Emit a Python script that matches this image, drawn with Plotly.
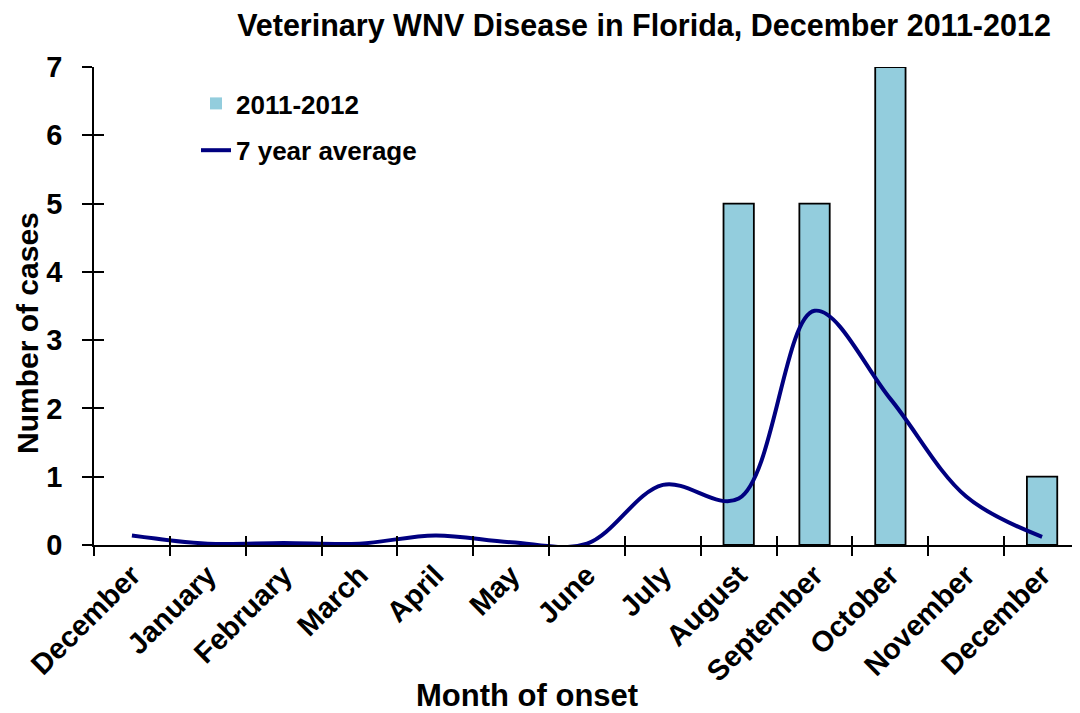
import plotly.graph_objects as go

months = ["December", "January", "February", "March", "April", "May", "June",
          "July", "August", "September", "October", "November", "December"]
cases_2011_2012 = [0, 0, 0, 0, 0, 0, 0, 0, 5, 5, 7, 0, 1]
avg_7yr = [0.14, 0.02, 0.03, 0.02, 0.14, 0.04, 0.02, 0.88, 0.68, 3.43, 2.14, 0.71, 0.12]
y_ticks = [0, 1, 2, 3, 4, 5, 6, 7]

FONT = "Liberation Sans, Arial, sans-serif"
xpos = list(range(len(months)))
bounds = [i - 0.5 for i in xpos]

# page offset: default html body margin of 8px
L, T, PW, PH = 86, 59, 986, 478
W, H = 1080, 713

fig = go.Figure()
fig.add_trace(go.Bar(
    x=xpos, y=cases_2011_2012, name="<b>2011-2012</b>", width=0.4,
    marker=dict(color="#93CDDD",
                line=dict(color="black", width=[1.8 if v else 0 for v in cases_2011_2012])),
    legendgroup="a",
))
fig.add_trace(go.Scatter(
    x=xpos, y=avg_7yr, name="<b>7 year average</b>", mode="lines",
    line=dict(color="#000080", width=4, shape="spline", smoothing=1.0),
    legendgroup="b",
))
# helper invisible traces to host tick-only axes
fig.add_trace(go.Scatter(x=[xpos[0]], y=[0], xaxis="x2", yaxis="y2", mode="markers",
                         marker=dict(opacity=0), showlegend=False, hoverinfo="skip"))
fig.add_trace(go.Scatter(x=[xpos[0]], y=[0], xaxis="x3", yaxis="y3", mode="markers",
                         marker=dict(opacity=0), showlegend=False, hoverinfo="skip"))

xr = [-0.5, 12.5]
yr = [0, 7]
fig.update_layout(
    width=W, height=H,
    margin=dict(l=L, r=W - L - PW, t=T, b=H - T - PH, autoexpand=False),
    paper_bgcolor="white", plot_bgcolor="white",
    font=dict(family=FONT, color="black"),
    title=dict(text="<b>Veterinary WNV Disease in Florida, December 2011-2012</b>",
               x=636 / W, xanchor="center", y=1 - 17 / H, yanchor="middle",
               font=dict(size=30.5, family=FONT, color="black")),
    bargap=0.6,
    showlegend=True,
    legend=dict(xref="paper", yref="paper", x=(188 - L) / PW, y=(PH - 13) / PH,
                xanchor="left", yanchor="top", bgcolor="rgba(0,0,0,0)",
                font=dict(size=26, family=FONT, color="black"),
                traceorder="grouped", tracegroupgap=10),
    xaxis=dict(range=xr, tickmode="array", tickvals=xpos,
               ticktext=["<b>%s</b>" % m for m in months],
               tickangle=-45, ticks="", showgrid=False, zeroline=False,
               showline=True, linecolor="black", linewidth=1.5,
               tickfont=dict(size=29, family=FONT, color="black"),
               ticklabelstandoff=0),
    xaxis2=dict(range=xr, overlaying="x", anchor="y", tickmode="array",
                tickvals=bounds, ticks="outside", ticklen=10, tickwidth=1.5,
                tickcolor="black", showticklabels=False, showgrid=False,
                zeroline=False, showline=False),
    xaxis3=dict(range=xr, overlaying="x", anchor="y", tickmode="array",
                tickvals=bounds, ticks="inside", ticklen=9, tickwidth=1.5,
                tickcolor="black", showticklabels=False, showgrid=False,
                zeroline=False, showline=False),
    yaxis=dict(range=yr, tickmode="array", tickvals=y_ticks,
               ticktext=["<b>%d</b>" % v for v in y_ticks],
               ticks="outside", ticklen=10, tickwidth=1.5, tickcolor="black",
               showgrid=False, zeroline=False, showline=True,
               linecolor="black", linewidth=1.5,
               tickfont=dict(size=29, family=FONT, color="black"),
               ticklabelstandoff=14),
    yaxis2=dict(range=yr, overlaying="y", anchor="x", side="left",
                tickmode="array", tickvals=y_ticks, ticks="inside", ticklen=10,
                tickwidth=1.5, tickcolor="black", showticklabels=False,
                showgrid=False, zeroline=False, showline=False),
    yaxis3=dict(range=yr, overlaying="y", anchor="x", side="left",
                tickmode="array", tickvals=y_ticks, ticks="", showticklabels=False,
                showgrid=False, zeroline=False, showline=False),
    annotations=[
        dict(text="<b>Month of onset</b>", xref="paper", yref="paper",
             x=(519 - L) / PW, y=(T + PH - 687) / PH, xanchor="center", yanchor="middle",
             showarrow=False, font=dict(size=31, family=FONT, color="black")),
        dict(text="<b>Number of cases</b>", xref="paper", yref="paper",
             x=(19 - L) / PW, y=(T + PH - 325) / PH, xanchor="center", yanchor="middle",
             textangle=-90, showarrow=False,
             font=dict(size=30, family=FONT, color="black")),
    ],
)

fig.write_html("out.html")
